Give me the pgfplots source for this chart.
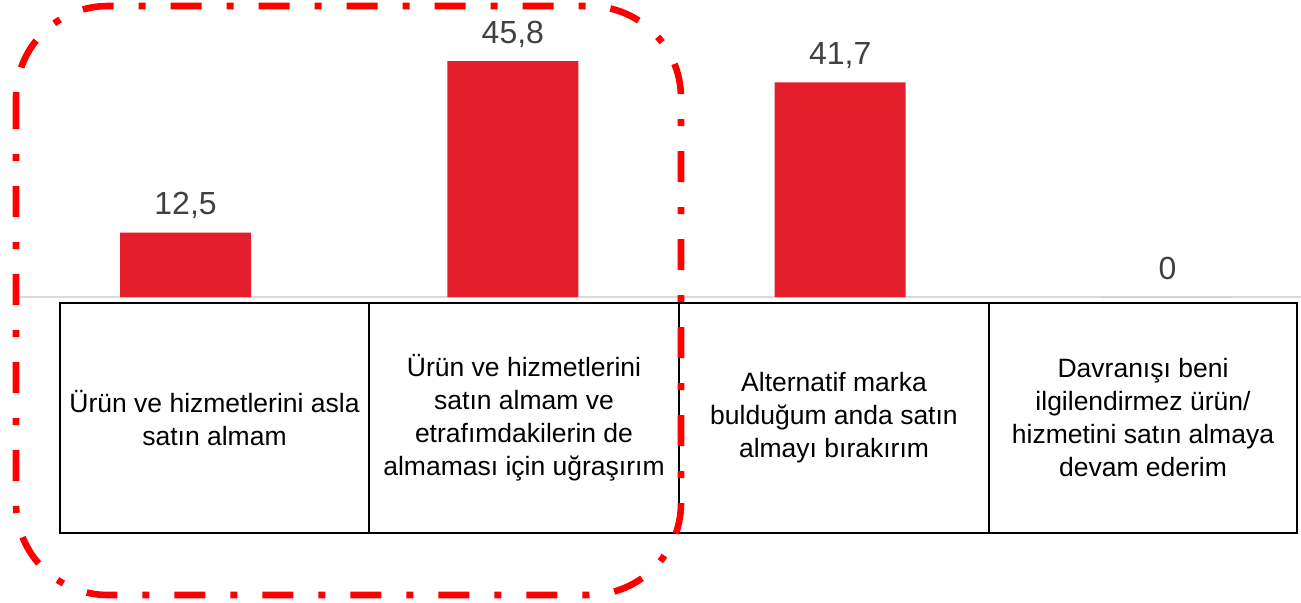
\documentclass[border=0pt]{standalone}
\usepackage{pgfplots}
\pgfplotsset{compat=1.18}
\usepackage{fontspec}
\setmainfont{Liberation Sans}
\definecolor{barred}{HTML}{E41E2B}
\definecolor{lblgray}{HTML}{404040}
\definecolor{basegray}{HTML}{D9D9D9}
\definecolor{frame}{HTML}{FF0000}
\begin{document}
\begin{tikzpicture}
\useasboundingbox (0pt,0pt) rectangle (650.5pt,-301pt);
\begin{scope}[x=0.5pt,y=-0.5pt]
  \draw[basegray, line width=1pt] (17,297) -- (1301,297);
\end{scope}
\begin{axis}[
  at={(8.5pt,-148.5pt)}, anchor=south west,
  width=642pt, height=146pt, scale only axis,
  xmin=-0.515, xmax=3.408, ymin=0, ymax=56.7,
  hide axis, clip=false,
  ybar, bar width=65.5pt,
  nodes near coords,
  every node near coord/.append style={anchor=base, yshift=9pt, inner sep=0pt,
     text=lblgray, font=\fontsize{16pt}{19pt}\selectfont},
  /pgf/number format/.cd, use comma, fixed, precision=1, assume math mode=true,
]
\addplot[fill=barred, draw=none] coordinates {(0,12.5) (1,45.8) (2,41.7) (3,0)};
\end{axis}
\begin{scope}[x=0.5pt,y=-0.5pt]
  \draw[black, line width=1.2pt] (60,303) rectangle (1297,533);
  \draw[black, line width=1.2pt] (369,303) -- (369,533);
  \draw[black, line width=1.2pt] (679,303) -- (679,533);
  \draw[black, line width=1.2pt] (989,303) -- (989,533);
  \begin{scope}[every node/.style={align=center, inner sep=0pt,
      font=\fontsize{13.25pt}{16.5pt}\selectfont}]
    \node at (214.5,418) {Ürün ve hizmetlerini asla\\satın almam};
    \node at (524,418) {Ürün ve hizmetlerini\\satın almam ve\\etrafımdakilerin de\\almaması için uğraşırım};
    \node at (834,418) {Alternatif marka\\bulduğum anda satın\\almayı bırakırım};
    \node at (1143,418) {Davranışı beni\\ilgilendirmez ürün/\\hizmetini satın almaya\\devam ederim};
  \end{scope}
  \draw[frame, line width=3.3pt, rounded corners=46pt,
        dash pattern=on 15.5pt off 12.5pt on 3.5pt off 12.5pt]
     (16,6) rectangle (681,595);
\end{scope}
\end{tikzpicture}
\end{document}
